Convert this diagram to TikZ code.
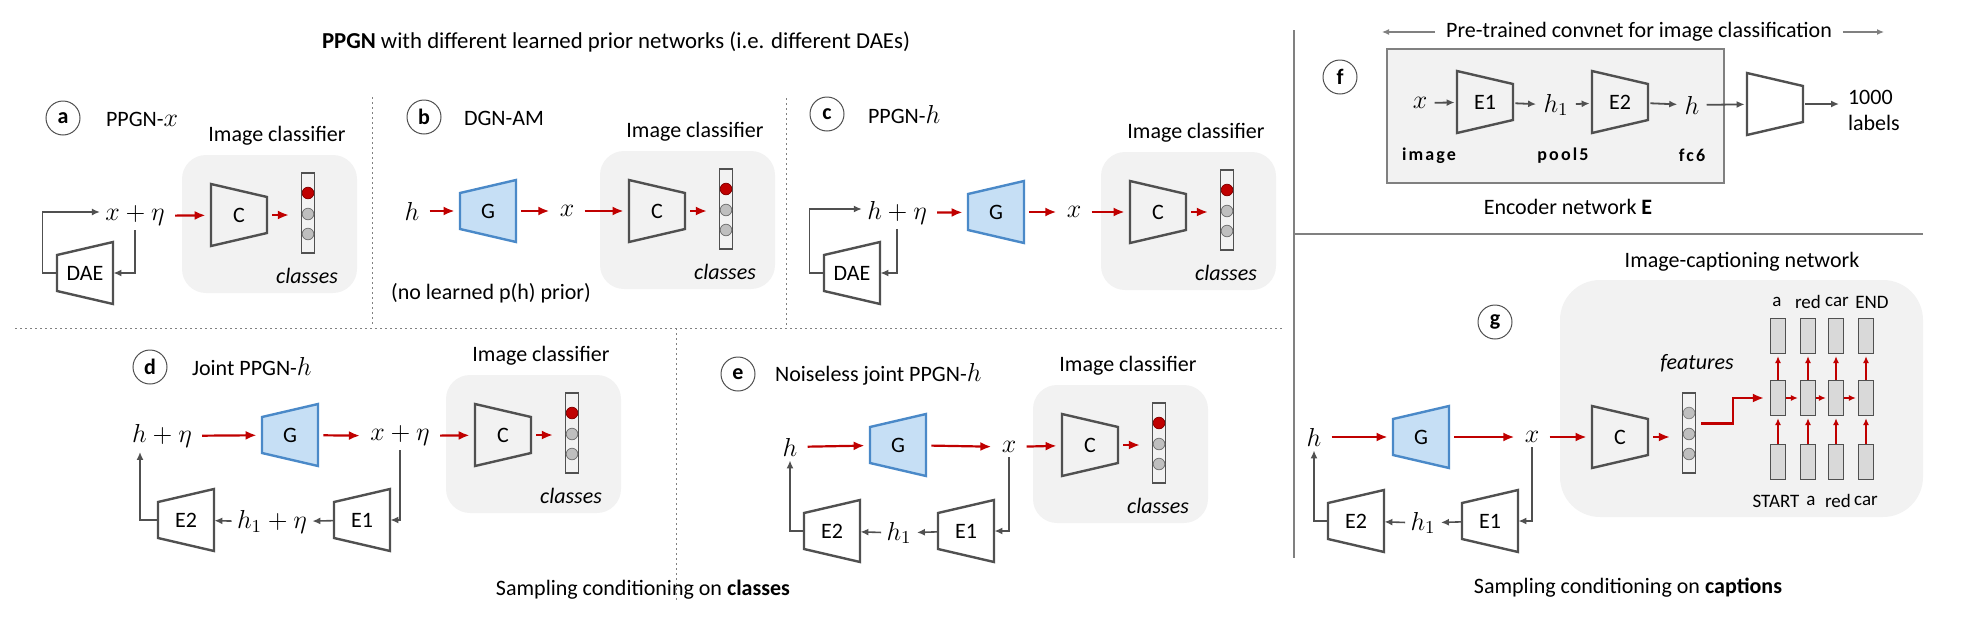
\RequirePackage{fix-cm}
\documentclass[tikz,border=0pt]{standalone}
\usepackage{fontspec}
\setmainfont{Carlito}
\usepackage{amsmath}
\usetikzlibrary{arrows.meta}

\definecolor{boxgray}{HTML}{F2F2F2}
\definecolor{linegray}{HTML}{505050}
\definecolor{sepgray}{HTML}{808080}
\definecolor{ppgnred}{HTML}{C00000}
\definecolor{gfill}{HTML}{C6DFF5}
\definecolor{gline}{HTML}{4A89C8}
\definecolor{cellgray}{HTML}{D9D9D9}
\definecolor{dotgray}{HTML}{BFBFBF}

\newcommand{\mv}[1]{{\fontsize{13}{15}\selectfont$#1$}}

\tikzset{
    var/.style={inner xsep=2.5pt, inner ysep=2pt, font=\fontsize{13}{15}\selectfont},
    block/.style={minimum width=28pt, minimum height=18pt, inner sep=0pt},
    trap/.style={draw=linegray, line width=1.2pt},
    gen/.style={draw=gline, fill=gfill, line width=1.2pt},
    redarrow/.style={draw=ppgnred, line width=1.1pt, shorten <=2.5pt, shorten >=2.5pt, -{Latex[length=5.5pt,width=4.5pt]}},
    looparrow/.style={draw=linegray, line width=0.8pt, -{Latex[length=4pt,width=3.5pt]}},
    flowarrow/.style={draw=linegray, line width=0.9pt, shorten <=1pt, shorten >=1pt, -{Latex[length=4pt,width=3.5pt]}},
    thinarrow/.style={draw=sepgray, line width=0.6pt, shorten <=2pt, -{Latex[length=3.5pt,width=3pt]}},
    cellarrow/.style={draw=ppgnred, line width=0.8pt, shorten >=1pt, -{Latex[length=3.5pt,width=3pt]}},
    tag/.style={circle, draw=linegray, line width=0.5pt, minimum size=17pt, inner sep=0pt, font=\fontsize{11}{13}\selectfont\bfseries},
    sep/.style={draw=sepgray, line width=0.5pt, dash pattern=on 1pt off 1.5pt},
    sepline/.style={draw=sepgray, line width=0.6pt},
    classes/.style={font=\fontsize{11}{13}\selectfont\itshape},
    barbox/.style={draw=linegray, line width=0.6pt, minimum width=6.5pt, minimum height=40pt, inner sep=0pt},
    cell/.style={draw=linegray, fill=cellgray, line width=0.6pt, minimum width=7.5pt, minimum height=17.5pt, inner sep=0pt},
    word/.style={font=\fontsize{9.5}{11}\selectfont},
    layer/.style={font=\fontsize{9}{11}\selectfont\bfseries\addfontfeatures{LetterSpace=12}}
}

% trapezium, wide side on the left
\newcommand{\trapL}[4]{%
    \coordinate (#1c) at #2;
    \draw[#4] ([shift={(-28,-31)}]#1c) -- ([shift={(28,-18)}]#1c) -- ([shift={(28,18)}]#1c) -- ([shift={(-28,31)}]#1c) -- cycle;
    \node[block] (#1) at (#1c) {#3};}
% trapezium, wide side on the right
\newcommand{\trapR}[4]{%
    \coordinate (#1c) at #2;
    \draw[#4] ([shift={(-28,-18)}]#1c) -- ([shift={(28,-31)}]#1c) -- ([shift={(28,31)}]#1c) -- ([shift={(-28,18)}]#1c) -- cycle;
    \node[block] (#1) at (#1c) {#3};}
% bar with three units
\newcommand{\dotbar}[4]{%
    \node[barbox] (#1) at (#2,#3+40) {};
    \filldraw[fill=#4, draw=#4!70!black, line width=0.4pt] (#2,#3+20) circle[radius=2.9pt];
    \filldraw[fill=dotgray, draw=dotgray!60!black, line width=0.4pt] (#2,#3+41) circle[radius=2.9pt];
    \filldraw[fill=dotgray, draw=dotgray!60!black, line width=0.4pt] (#2,#3+61) circle[radius=2.9pt];}
% image classifier: prefix, left, top
\newcommand{\classifier}[3]{%
    \fill[boxgray, rounded corners=12pt] (#2,#3) rectangle (#2+175,#3+138);
    \node (#1label) at (#2+95,#3-19) {Image classifier};
    \trapL{#1C}{(#2+57,#3+60)}{C}{trap}
    \dotbar{#1bar}{#2+126}{#3+18}{ppgnred}
    \node[classes] (#1classes) at (#2+125,#3+121) {classes};
    \draw[redarrow, shorten >=6pt] (#1C) -- (#1bar.west |- #1C);}

\begin{document}
\begin{tikzpicture}[x=0.5pt, y=-0.5pt, every node/.append style={font=\fontsize{11}{13}\selectfont}]
    \useasboundingbox (0,0) rectangle (1972,632);

    \draw[sep] (372,97) -- (372,325);
    \draw[sep] (786,98) -- (786,325);
    \draw[sep] (15,328) -- (1285,328);
    \draw[sep] (676,328) -- (676,600);
    \draw[sepline] (1294,30) -- (1294,558);
    \draw[sepline] (1294,234) -- (1923,234);

    \node[font=\fontsize{11.4}{13}\selectfont] (title) at (616,42) {\textbf{PPGN} with different learned prior networks (i.e. different DAEs)};
    \node (classcap) at (643,590) {Sampling conditioning on \textbf{classes}};
    \node (captcap) at (1628,588) {Sampling conditioning on \textbf{captions}};

    % a
    \node[tag] (taga) at (63,118) {a};
    \node[anchor=west] (namea) at (99,119) {PPGN-\mv{x}};
    \classifier{a}{182}{155}
    \node[var] (ax) at (135,216) {$x+\eta$};
    \trapR{aDAE}{(85,273)}{DAE}{trap}
    \draw[redarrow] (ax) -- (aC);
    \draw[looparrow] (ax.south) |- (aDAE.east);
    \draw[looparrow] (aDAE.west) -- ++(-14,0) |- ([yshift=2pt]ax.west);

    % b
    \node[tag] (tagb) at (424,117) {b};
    \node[anchor=west] (nameb) at (457,118) {DGN-AM};
    \classifier{b}{600}{151}
    \node[var] (bh) at (412,211) {$h$};
    \trapR{bG}{(488,211)}{G}{gen}
    \node[var] (bx) at (567,211) {$x$};
    \draw[redarrow] (bh) -- (bG);
    \draw[redarrow] (bG) -- (bx);
    \draw[redarrow] (bx) -- (bC);
    \node (bnote) at (491,293) {(no learned p(h) prior)};

    % c
    \node[tag] (tagc) at (827,114) {c};
    \node[anchor=west] (namec) at (861,115) {PPGN-\mv{h}};
    \classifier{c}{1101}{152}
    \node[var] (ch) at (897,213) {$h+\eta$};
    \trapR{cG}{(996,212)}{G}{gen}
    \node[var] (cx) at (1074,212) {$x$};
    \trapR{cDAE}{(852,273)}{DAE}{trap}
    \draw[redarrow] (ch) -- (cG);
    \draw[redarrow] (cG) -- (cx);
    \draw[redarrow] (cx) -- (cC);
    \draw[looparrow] (ch.south) |- (cDAE.east);
    \draw[looparrow] (cDAE.west) -- ++(-14,0) |- ([yshift=2pt]ch.west);

    % d
    \node[tag] (tagd) at (150,367) {d};
    \node[anchor=west] (named) at (185,367) {Joint PPGN-\mv{h}};
    \classifier{d}{446}{375}
    \node[var] (dh) at (162,436) {$h+\eta$};
    \trapR{dG}{(290,435)}{G}{gen}
    \node[var] (dx) at (400,436) {$x+\eta$};
    \trapR{dE1}{(362,520)}{E1}{trap}
    \node[var] (dh1) at (272,522) {$h_1+\eta$};
    \trapR{dE2}{(186,520)}{E2}{trap}
    \draw[redarrow] (dh) -- (dG);
    \draw[redarrow] (dG) -- (dx);
    \draw[redarrow] (dx) -- (dC);
    \draw[looparrow] (dx.south) |- (dE1.east);
    \draw[looparrow] (dE1) -- (dh1);
    \draw[looparrow] (dh1) -- (dE2);
    \draw[looparrow] (dE2.west) -| ([xshift=-11pt]dh.south);

    % e
    \node[tag] (tage) at (738,374) {e};
    \node[anchor=west] (namee) at (768,374) {Noiseless joint PPGN-\mv{h}};
    \classifier{e}{1033}{385}
    \node[var] (eh) at (790,447) {$h$};
    \trapR{eG}{(898,445)}{G}{gen}
    \node[var] (ex) at (1009,447) {$x$};
    \trapR{eE1}{(966,531)}{E1}{trap}
    \node[var] (eh1) at (899,533) {$h_1$};
    \trapR{eE2}{(832,531)}{E2}{trap}
    \draw[redarrow] (eh) -- (eG);
    \draw[redarrow] (eG) -- (ex);
    \draw[redarrow] (ex) -- (eC);
    \draw[looparrow] (ex.south) |- (eE1.east);
    \draw[looparrow] (eE1) -- (eh1);
    \draw[looparrow] (eh1) -- (eE2);
    \draw[looparrow] (eE2.west) -| (eh.south);

    % f
    \node[tag] (tagf) at (1340,77) {f};
    \draw[fill=boxgray, draw=sepgray, line width=0.7pt] (1387,49) rectangle (1724,183);
    \node (pretrained) at (1639,32) {Pre-trained convnet for image classification};
    \coordinate (preL) at (1382,32);
    \coordinate (preR) at (1884,32);
    \draw[thinarrow] (pretrained.west) -- (preL);
    \draw[thinarrow] (pretrained.east) -- (preR);
    \node[var] (fx) at (1420,103) {$x$};
    \trapL{fE1}{(1485,102)}{E1}{trap}
    \node[var] (fh1) at (1556,105) {$h_1$};
    \trapL{fE2}{(1620,102)}{E2}{trap}
    \node[var] (fh) at (1692,105) {$h$};
    \trapL{fout}{(1775,104)}{}{trap}
    \node[anchor=west, align=left] (flabels) at (1841,110) {1000\\labels};
    \draw[flowarrow] (fx) -- (fE1);
    \draw[flowarrow] (fE1) -- (fh1);
    \draw[flowarrow] (fh1) -- (fE2);
    \draw[flowarrow] (fE2) -- (fh);
    \draw[flowarrow] (fh) -- (fout);
    \draw[flowarrow] (fout) -- (fout -| flabels.west);
    \node[layer] (fimage) at (1429,156) {image};
    \node[layer] (fpool) at (1563,156) {pool5};
    \node[layer] (ffc) at (1692,155) {fc6};
    \node (fname) at (1568,207) {Encoder network \textbf{E}};

    % g
    \node[tag] (tagg) at (1495,322) {g};
    \fill[boxgray, rounded corners=20pt] (1560,280) rectangle (1923,517);
    \node (captitle) at (1742,262) {Image-captioning network};
    \node[var] (gh) at (1314,437) {$h$};
    \trapR{gG}{(1421,437)}{G}{gen}
    \node[var] (gx) at (1532,437) {$x$};
    \trapL{gC}{(1620,437)}{C}{trap}
    \dotbar{gbar}{1689}{393}{dotgray}
    \node[classes] (gfeat) at (1697,363) {features};
    \trapR{gE1}{(1490,521)}{E1}{trap}
    \node[var] (gh1) at (1423,523) {$h_1$};
    \trapR{gE2}{(1356,521)}{E2}{trap}
    \draw[redarrow] (gh) -- (gG);
    \draw[redarrow] (gG) -- (gx);
    \draw[redarrow] (gx) -- (gC);
    \draw[redarrow, shorten >=6pt] (gC) -- (gbar.west |- gC);
    \draw[looparrow] (gx.south) |- (gE1.east);
    \draw[looparrow] (gE1) -- (gh1);
    \draw[looparrow] (gh1) -- (gE2);
    \draw[looparrow] (gE2.west) -| (gh.south);

    \node[cell] (gtop1) at (1778,336) {};
    \node[cell] (gtop2) at (1808,336) {};
    \node[cell] (gtop3) at (1836,336) {};
    \node[cell] (gtop4) at (1866,336) {};
    \node[cell] (gmid1) at (1778,398) {};
    \node[cell] (gmid2) at (1808,398) {};
    \node[cell] (gmid3) at (1836,398) {};
    \node[cell] (gmid4) at (1866,398) {};
    \node[cell] (gbot1) at (1778,462) {};
    \node[cell] (gbot2) at (1808,462) {};
    \node[cell] (gbot3) at (1836,462) {};
    \node[cell] (gbot4) at (1866,462) {};
    \node[word] (gout1) at (1777,302) {a};
    \node[word] (gout2) at (1808,302) {red};
    \node[word] (gout3) at (1837,302) {car};
    \node[word] (gout4) at (1872,302) {END};
    \node[word] (gin1) at (1776,501) {START};
    \node[word] (gin2) at (1811,501) {a};
    \node[word] (gin3) at (1838,501) {red};
    \node[word] (gin4) at (1866,501) {car};
    \draw[cellarrow] (gbot1) -- (gmid1);
    \draw[cellarrow] (gbot2) -- (gmid2);
    \draw[cellarrow] (gbot3) -- (gmid3);
    \draw[cellarrow] (gbot4) -- (gmid4);
    \draw[cellarrow] (gmid1) -- (gtop1);
    \draw[cellarrow] (gmid2) -- (gtop2);
    \draw[cellarrow] (gmid3) -- (gtop3);
    \draw[cellarrow] (gmid4) -- (gtop4);
    \draw[cellarrow] (gmid1) -- (gmid2);
    \draw[cellarrow] (gmid2) -- (gmid3);
    \draw[cellarrow] (gmid3) -- (gmid4);
    \draw[redarrow, shorten >=3pt] ([yshift=4.75pt]gbar.east) -- ++(37,0) |- (gmid1.west);
\end{tikzpicture}
\end{document}
